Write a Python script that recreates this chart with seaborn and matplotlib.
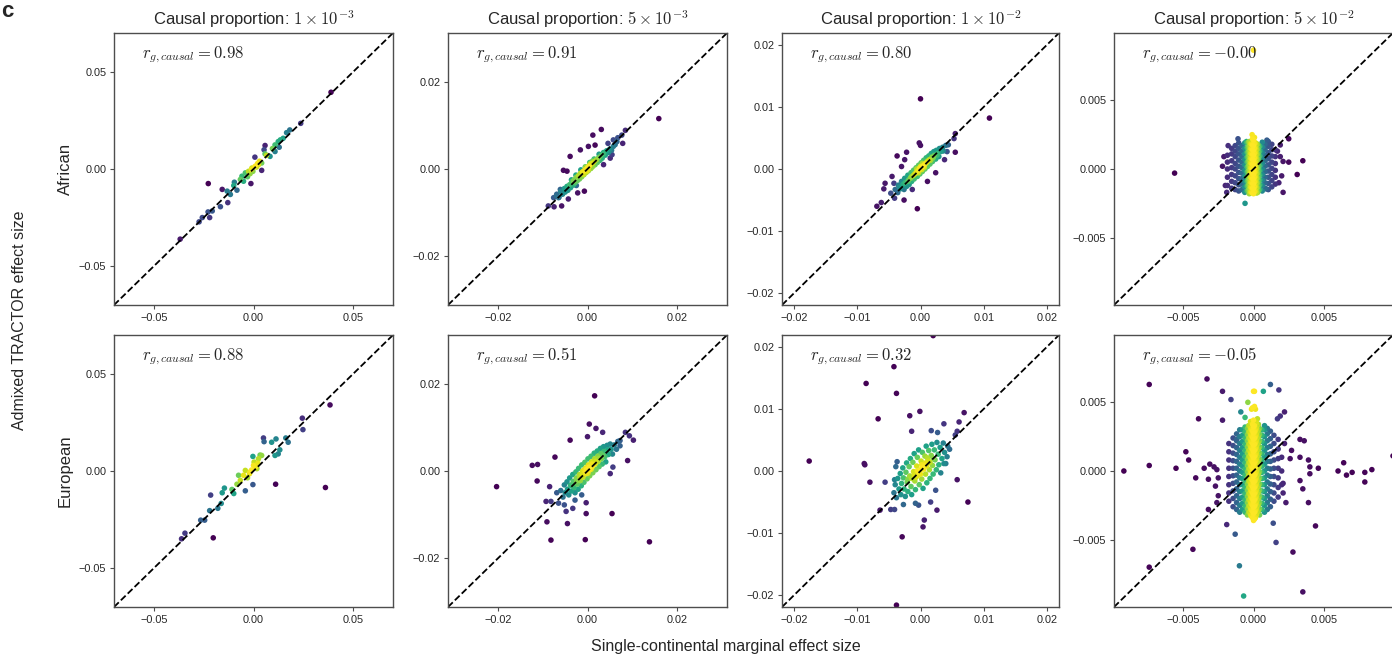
import numpy as np
import matplotlib
matplotlib.use("Agg")
import matplotlib.pyplot as plt
import seaborn as sns

# --- values, in units of 1e-3 (x = single-continental, y = TRACTOR) ---
col_titles = ["Causal proportion: $1\\times10^{-3}$", "Causal proportion: $5\\times10^{-3}$",
              "Causal proportion: $1\\times10^{-2}$", "Causal proportion: $5\\times10^{-2}$"]
row_names = ["African", "European"]
rg_afr = ["0.98", "0.91", "0.80", "-0.00"]
rg_eur = ["0.88", "0.51", "0.32", "-0.05"]
axis_lim = [0.07, 0.0313, 0.0219, 0.0099]
axis_ticks = [[-0.05, 0.0, 0.05], [-0.02, 0.0, 0.02],
              [-0.02, -0.01, 0.0, 0.01, 0.02], [-0.005, 0.0, 0.005]]

afr_1e3 = [(38.9, 39.5), (23.7, 23.5), (18.2, 20.1), (16.6, 18.7), (14.9, 15.8), (12.4, 14.1),
           (10.8, 12.4), (12.9, 11.2), (5.8, 12.1), (5.3, 9.9), (10.8, 9.0), (8.3, 6.5),
           (5.8, 7.8), (0.7, 6.1), (4.1, 3.1), (2.5, 2.2), (0.8, 1.4), (-0.8, 0.5),
           (-2.5, -1.2), (-1.7, -2.4), (-4.1, -2.0), (-5.8, -3.7), (4.1, -0.7), (-1.3, -7.5),
           (-5.0, -6.3), (-6.6, -5.4), (-9.6, -6.8), (-9.9, -8.5), (-8.3, -10.9), (-13.2, -11.4),
           (-15.7, -10.5), (-11.6, -13.1), (-22.7, -7.5), (-12.9, -17.3), (-16.6, -19.4), (-20.7, -21.6),
           (-22.8, -22.1), (-22.0, -25.0), (-25.7, -25.0), (-27.3, -27.2), (-36.8, -36.1), (-0.3, -1.2),
           (1.5, 1.0), (3.0, 4.0), (-3.0, -4.0), (2.0, 2.8), (-1.0, -0.2), (6.5, 7.0), (9.5, 10.5),
           (13.5, 15.0)]

eur_1e3 = [(38.4, 34.0), (24.5, 27.2), (24.8, 21.3), (16.2, 17.0), (17.4, 14.8), (11.3, 16.5),
           (9.1, 14.8), (5.0, 17.0), (5.3, 15.1), (13.2, 10.9), (12.4, 8.8), (10.8, 8.0),
           (4.1, 8.0), (2.5, 6.3), (-0.3, 7.5), (0.0, 2.9), (1.7, 1.2), (-1.7, -0.5),
           (-4.1, 0.3), (-5.0, -2.2), (-7.5, -2.2), (-6.6, -4.8), (-8.3, -6.8), (-0.3, -7.0),
           (-4.1, -10.2), (-10.8, -9.5), (-9.9, -11.6), (-14.6, -8.8), (-15.7, -11.2), (-21.5, -12.4),
           (-16.2, -16.7), (-17.9, -19.2), (-22.0, -20.4), (-24.5, -25.3), (-26.5, -25.3), (-34.4, -32.0),
           (-36.1, -34.9), (-20.2, -34.4), (11.1, -6.8), (36.1, -8.5), (0.3, 4.6), (-2.0, -1.4),
           (3.3, 8.2), (1.0, 2.0), (-1.0, 0.5), (2.2, 4.0), (-3.0, -3.5)]

afr_5e3 = [(16.0, 11.6), (3.1, 9.1), (1.2, 7.8), (8.5, 8.9), (7.7, 7.8), (7.9, 5.9), (5.8, 6.7),
           (1.7, 5.5), (0.2, 5.2), (-3.9, 2.9), (-1.6, 4.4), (-5.4, -0.3), (-4.6, -0.5), (5.1, 2.5),
           (3.6, 1.0), (-2.5, -3.8), (-0.7, -5.1), (-2.2, -5.5), (-6.1, -4.7), (-6.9, -5.8),
           (-7.6, -6.6), (-8.8, -8.5), (-7.5, -8.7), (-5.8, -8.5), (-6.5, -6.6), (-3.1, -2.8),
           (5.5, 3.3), (6.8, 7.2), (4.6, 5.9), (-4.3, -6.9),
           (-7.0, -6.2), (-6.4, -6.5), (-6.0, -5.2), (-5.6, -5.8), (-5.2, -4.5), (-5.0, -5.3),
           (-4.6, -4.0), (-4.4, -4.9), (-4.0, -3.6), (-3.8, -4.3), (-3.5, -2.9), (-3.2, -3.7),
           (-3.0, -2.5), (-2.8, -3.2), (-2.5, -1.9), (-2.3, -2.7), (-2.0, -1.5), (-1.8, -2.3),
           (-1.6, -1.0), (-1.3, -1.8), (-1.0, -0.6), (-0.8, -1.3), (-0.6, -0.2), (-0.3, -0.8),
           (0.0, 0.3), (0.2, -0.4), (0.4, 0.7), (0.7, 0.1), (0.9, 1.2), (1.2, 0.6), (1.4, 1.6),
           (1.7, 1.0), (2.0, 2.1), (2.2, 1.5), (2.5, 2.6), (2.8, 2.0), (3.0, 3.1), (3.3, 2.5),
           (3.6, 3.5), (4.0, 3.2), (4.3, 4.2), (4.7, 3.8), (5.0, 4.6), (5.4, 4.3), (5.8, 5.2),
           (6.2, 5.6), (6.6, 6.3), (-2.6, -1.4), (-1.5, -0.2), (-0.5, 0.5), (0.5, 1.5), (1.5, 2.3),
           (2.6, 3.4), (-3.6, -2.5), (3.6, 3.8), (-0.2, -0.5), (0.3, 0.6), (0.8, 0.2), (-0.9, -1.2),
           (1.1, 1.8), (-1.1, -0.7), (0.1, -0.2), (-0.4, 0.4), (0.6, 1.2)]

afr_1e2 = [(0.0, 11.3), (10.9, 8.2), (5.5, 5.7), (5.5, 2.7), (-0.2, 4.2), (0.0, 3.8), (-3.7, 2.1),
           (-2.2, 2.7), (-2.5, 1.5), (-4.5, -1.2), (-4.2, -2.3), (-5.6, -2.3), (-5.8, -3.2),
           (-4.7, -3.9), (-6.2, -5.4), (-6.9, -6.0), (-4.1, -4.7), (-2.6, -5.0), (-0.5, -6.4),
           (-1.3, -3.3), (1.1, -2.0), (4.2, 2.8), (3.8, 1.5), (2.4, -0.6), (5.3, 4.9), (-3.0, 0.4),
           (-4.0, -3.3), (-3.6, -3.8), (-3.5, -2.6), (-3.2, -3.2), (-3.0, -2.0), (-2.9, -2.7),
           (-2.6, -3.3), (-2.5, -1.5), (-2.4, -2.2), (-2.2, -2.8), (-2.0, -1.0), (-1.9, -1.8),
           (-1.8, -2.5), (-1.5, -0.6), (-1.5, -1.3), (-1.4, -2.0), (-1.1, -0.2), (-1.0, -0.9),
           (-1.0, -1.6), (-0.7, 0.2), (-0.6, -0.5), (-0.5, -1.2), (-0.3, 0.6), (-0.2, -0.1),
           (-0.1, -0.8), (0.1, 1.0), (0.2, 0.3), (0.3, -0.4), (0.5, 1.4), (0.6, 0.7), (0.7, 0.0),
           (0.9, 1.8), (1.0, 1.1), (1.1, 0.4), (1.3, 2.1), (1.4, 1.5), (1.5, 0.8), (1.7, 2.5),
           (1.8, 1.9), (1.9, 1.2), (2.1, 2.8), (2.2, 2.2), (2.4, 1.6), (2.5, 3.0), (2.7, 2.5),
           (2.9, 2.0), (3.0, 3.3), (3.2, 2.8), (3.5, 3.5), (3.6, 2.9), (4.0, 3.8), (4.4, 3.9),
           (0.0, 0.4), (0.4, 0.5), (-0.4, -0.3), (0.8, 0.9), (-0.8, -0.7), (0.2, -0.1), (-0.1, 0.2),
           (1.2, 1.3), (-1.2, -1.1), (0.6, 0.3), (-0.6, 0.0), (1.6, 1.4), (-1.6, -1.5), (2.0, 1.8),
           (-2.0, -2.0), (0.3, 0.9), (-0.3, -0.6), (2.6, 2.2), (-2.7, -2.4), (3.3, 3.0), (-3.3, -2.9)]

eur_5e3 = [(1.6, 17.3), (0.4, 10.8), (1.9, 9.8), (3.4, 8.9), (-3.9, 7.1), (0.0, 7.9), (9.4, 8.1),
           (10.3, 7.1), (8.5, 8.9), (7.3, 5.8), (9.0, 2.4), (-7.3, 3.2), (-12.4, 1.3), (-11.2, 1.5),
           (-11.3, -2.3), (-20.4, -3.6), (-8.5, -3.6), (-6.9, -5.0), (-9.3, -7.0), (-8.2, -7.0),
           (-4.8, -9.3), (-3.3, -8.6), (-0.3, -9.8), (5.5, -9.8), (-9.1, -11.7), (-4.5, -12.1),
           (-8.2, -15.9), (-0.5, -15.8), (13.9, -16.3), (5.1, -0.6), (5.7, 0.9), (-0.3, -7.3),
           (-1.3, -5.5), (-2.8, -6.7), (-5.2, -7.8), (-6.5, -7.4), (7.3, 7.0),
           (-6.0, -4.5), (-5.5, -6.0), (-5.2, -3.2), (-5.0, -5.0), (-4.6, -2.5), (-4.5, -4.2),
           (-4.2, -5.5), (-4.0, -1.6), (-3.8, -3.3), (-3.6, -4.6), (-3.3, -0.8), (-3.2, -2.4),
           (-3.0, -3.8), (-2.8, -5.0), (-2.6, -0.2), (-2.5, -1.6), (-2.3, -3.0), (-2.1, -4.2),
           (-2.0, 0.6), (-1.8, -0.8), (-1.6, -2.2), (-1.4, -3.4), (-1.3, 1.4), (-1.1, 0.0),
           (-1.0, -1.4), (-0.8, -2.6), (-0.6, 2.0), (-0.4, 0.7), (-0.3, -0.6), (-0.1, -1.8),
           (0.1, 2.8), (0.2, 1.4), (0.4, 0.2), (0.5, -1.1), (0.8, 3.4), (0.9, 2.1), (1.0, 0.9),
           (1.2, -0.4), (1.5, 4.1), (1.6, 2.8), (1.7, 1.6), (1.9, 0.3), (2.2, 4.6), (2.3, 3.4),
           (2.4, 2.2), (2.6, 1.0), (2.9, 5.2), (3.0, 4.0), (3.1, 2.8), (3.3, 1.6), (3.6, 5.6),
           (3.7, 4.5), (3.9, 3.3), (4.1, 2.1), (4.4, 5.9), (4.5, 4.9), (4.7, 3.8), (5.1, 6.2),
           (5.3, 5.0), (5.6, 3.9), (6.0, 6.0), (6.5, 5.0), (6.8, 6.8), (0.0, 0.0), (0.6, 0.7),
           (-0.5, -0.2), (1.3, 1.4), (-1.2, -0.8), (0.3, 0.9), (0.8, 0.4), (-0.2, 0.4), (1.8, 2.2),
           (-1.7, -1.5), (2.5, 2.9), (-2.4, -2.3), (0.1, -0.5), (1.0, 1.6), (-0.8, 0.2), (3.4, 3.6),
           (-3.4, -3.1)]

eur_1e2 = [(2.0, 21.8), (-4.2, 16.8), (-8.6, 14.1), (-3.8, 12.5), (-6.7, 8.4), (-1.7, 8.9),
           (-0.1, 9.6), (3.7, 7.6), (6.1, 7.9), (6.9, 9.4), (-1.4, 6.4), (1.7, 6.5), (2.7, 6.2),
           (5.8, 6.4), (5.5, 5.8), (-17.6, 1.6), (-8.9, 1.2), (-8.8, 1.0), (-8.0, -1.8), (-5.6, -1.8),
           (-4.1, -1.4), (5.8, -1.4), (7.5, -5.0), (-6.4, -6.3), (-4.7, -6.2), (-4.1, -6.2),
           (-2.7, -5.4), (-0.8, -5.2), (-0.3, -5.5), (1.6, -5.0), (2.6, -6.3), (0.6, -7.9),
           (0.4, -9.0), (-2.9, -10.6), (-3.8, -21.6), (2.4, -3.1), (3.7, 1.2), (4.2, 2.3),
           (-3.9, 0.7), (-3.7, 1.5),
           (-4.2, -3.5), (-4.0, -2.2), (-3.8, -4.3), (-3.6, -1.2), (-3.4, -2.9), (-3.2, -0.4),
           (-3.1, -3.8), (-3.0, -2.0), (-2.8, 0.5), (-2.7, -1.1), (-2.6, -2.9), (-2.4, -4.1),
           (-2.3, -0.2), (-2.2, 1.3), (-2.1, -1.8), (-2.0, -3.3), (-1.8, 0.7), (-1.7, -0.8),
           (-1.6, 2.0), (-1.5, -2.5), (-1.4, -3.8), (-1.2, 1.4), (-1.1, -0.1), (-1.0, 2.8),
           (-0.9, -1.6), (-0.8, -3.0), (-0.6, 0.8), (-0.5, 2.2), (-0.4, -0.7), (-0.3, 3.4),
           (-0.2, -2.2), (0.0, 0.2), (0.1, 1.6), (0.2, -1.3), (0.3, 3.0), (0.4, -2.8), (0.6, 0.9),
           (0.7, 2.4), (0.8, -0.5), (0.9, 4.0), (1.0, -1.9), (1.2, 1.6), (1.3, 3.3), (1.4, 0.2),
           (1.5, -1.2), (1.7, 2.5), (1.8, 4.3), (1.9, 0.9), (2.0, -0.5), (2.2, 3.4), (2.3, 1.8),
           (2.5, 0.2), (2.6, 4.6), (2.8, 2.7), (2.9, 1.0), (3.1, 3.8), (3.2, -0.3), (3.4, 2.0),
           (3.6, 4.5), (3.8, 3.0), (4.0, 1.2), (4.3, 4.0), (4.6, 3.5), (0.0, -0.5), (0.5, 0.3),
           (-0.5, 0.0), (1.0, 0.8), (-1.0, -0.6), (0.3, 0.6), (0.8, 1.3), (-0.3, -0.2), (1.5, 1.4),
           (-1.4, -1.2), (2.0, 2.0), (-2.0, -1.3), (0.2, 1.0), (1.1, 2.1), (-0.7, -1.0)]

# causal proportion 5e-2: scattered points plus the dense block, read column by column
afr_5e2_out = [(-5.6, -0.3), (0.0, 8.65), (-1.8, 1.7), (-2.1, 0.9), (-1.1, 2.2), (-1.9, -1.7),
               (-0.6, -2.5), (-0.1, 2.5), (-0.5, 2.0), (2.5, 2.2), (1.9, 1.75), (1.9, 0.9),
               (2.1, 0.55), (2.5, 0.5), (3.5, 0.6), (3.1, -0.4), (2.0, -0.5), (2.1, -1.7),
               (0.9, -1.45), (0.95, 2.1), (-2.0, -1.2), (-2.2, 0.2), (1.8, -1.0), (1.7, 1.3)]
afr_5e2_colx = [-1.85, -1.55, -1.3, -1.05, -0.82, -0.62, -0.45, -0.3, -0.15, 0.0, 0.15, 0.3,
                0.45, 0.62, 0.82, 1.05, 1.3, 1.55,
                -0.37, -0.22, -0.07, 0.07, 0.22, 0.37]
afr_5e2_coly = [[-1.2, -0.6, 0.0, 0.5, 1.0],
                [-1.4, -0.9, -0.4, 0.1, 0.6, 1.1, 1.5],
                [-1.5, -1.0, -0.5, 0.0, 0.4, 0.9, 1.3, 1.7],
                [-1.6, -1.15, -0.7, -0.25, 0.2, 0.65, 1.1, 1.5, 1.9],
                [-1.5, -1.1, -0.7, -0.3, 0.1, 0.5, 0.9, 1.3, 1.7],
                [-1.7, -1.3, -0.9, -0.5, -0.1, 0.3, 0.7, 1.1, 1.5, 1.9],
                [-1.6, -1.25, -0.9, -0.55, -0.2, 0.15, 0.5, 0.85, 1.2, 1.55, 1.9],
                [-1.8, -1.45, -1.1, -0.75, -0.4, -0.05, 0.3, 0.65, 1.0, 1.35, 1.7, 2.0],
                [-1.7, -1.35, -1.0, -0.65, -0.3, 0.05, 0.4, 0.75, 1.1, 1.45, 1.8],
                [-1.8, -1.45, -1.1, -0.75, -0.4, -0.05, 0.3, 0.65, 1.0, 1.35, 1.7, 2.1],
                [-1.6, -1.25, -0.9, -0.55, -0.2, 0.15, 0.5, 0.85, 1.2, 1.55, 1.9],
                [-1.7, -1.35, -1.0, -0.65, -0.3, 0.05, 0.4, 0.75, 1.1, 1.45, 1.8],
                [-1.5, -1.15, -0.8, -0.45, -0.1, 0.25, 0.6, 0.95, 1.3, 1.65],
                [-1.6, -1.2, -0.8, -0.4, 0.0, 0.4, 0.8, 1.2, 1.6, 1.95],
                [-1.4, -1.0, -0.6, -0.2, 0.2, 0.6, 1.0, 1.4, 1.8],
                [-1.5, -1.05, -0.6, -0.15, 0.3, 0.75, 1.2, 1.65, 2.0],
                [-1.3, -0.85, -0.4, 0.05, 0.5, 0.95, 1.4, 1.8],
                [-1.1, -0.6, -0.1, 0.4, 0.9, 1.4],
                [-1.55, -1.2, -0.85, -0.5, -0.15, 0.2, 0.55, 0.9, 1.25, 1.6, 1.95],
                [-1.65, -1.3, -0.95, -0.6, -0.25, 0.1, 0.45, 0.8, 1.15, 1.5, 1.85],
                [-1.75, -1.4, -1.05, -0.7, -0.35, 0.0, 0.35, 0.7, 1.05, 1.4, 1.75, 2.2],
                [-1.65, -1.3, -0.95, -0.6, -0.25, 0.1, 0.45, 0.8, 1.15, 1.5, 1.85, 2.3],
                [-1.75, -1.4, -1.05, -0.7, -0.35, 0.0, 0.35, 0.7, 1.05, 1.4, 1.75],
                [-1.55, -1.2, -0.85, -0.5, -0.15, 0.2, 0.55, 0.9, 1.25, 1.6]]

eur_5e2_out = [(-9.2, 0.0), (-7.4, 6.3), (-7.4, 0.4), (-7.4, -7.0), (-5.5, 0.2), (-4.8, 1.4),
               (-4.6, 0.8), (-3.9, 3.8), (-3.3, 6.7), (-4.1, -0.5), (-4.3, -5.7), (-3.2, -2.8),
               (-3.5, 0.2), (-3.1, 0.5), (-2.8, 0.3), (-2.6, 0.1), (-3.2, -0.6), (-2.5, -0.5),
               (-2.7, -1.1), (-2.5, -1.8), (-2.6, -2.3), (-2.2, 5.8), (-1.6, 5.2), (-2.2, 3.7),
               (-1.9, -3.9), (-1.3, -4.6), (-1.0, -6.9), (-0.7, -9.1), (0.7, 5.8), (1.2, 6.3),
               (1.8, 5.9), (2.2, 4.3), (1.7, 3.8), (1.9, 4.0), (3.3, 2.3), (3.6, 2.2), (2.7, 1.5),
               (2.6, 0.9), (3.3, 1.0), (3.9, 0.8), (4.0, 0.3), (4.6, 0.2), (4.0, -0.2), (6.0, 0.0),
               (6.4, 0.6), (6.6, -0.3), (7.0, -0.1), (7.9, -0.1), (7.9, -0.8), (8.4, 0.1),
               (9.9, 1.1), (3.3, -0.7), (3.5, -1.3), (3.9, -2.3), (4.4, -4.0), (2.8, -5.9),
               (1.6, -5.2), (1.4, -3.8), (3.5, -8.8), (2.3, -2.3), (2.1, -1.6), (-0.4, 5.0),
               (-0.9, 4.3), (-0.6, 3.9), (-1.2, 2.3), (2.2, 2.0), (2.1, -0.9)]
eur_5e2_colx = [-1.75, -1.45, -1.2, -0.98, -0.78, -0.6, -0.43, -0.28, -0.14, 0.0, 0.14, 0.28,
                0.43, 0.6, 0.78, 0.98, 1.2, 1.45, 1.75, 2.0,
                -0.35, -0.21, -0.07, 0.07, 0.21, 0.35]
eur_5e2_coly = [[-2.2, -1.6, -1.0, -0.4, 0.2, 0.8, 1.4, 2.0],
                [-2.6, -2.0, -1.45, -0.9, -0.35, 0.2, 0.75, 1.3, 1.85, 2.4],
                [-2.8, -2.3, -1.8, -1.3, -0.8, -0.3, 0.2, 0.7, 1.2, 1.7, 2.2, 2.7],
                [-3.0, -2.5, -2.0, -1.5, -1.0, -0.5, 0.0, 0.5, 1.0, 1.5, 2.0, 2.5, 3.0],
                [-2.8, -2.35, -1.9, -1.45, -1.0, -0.55, -0.1, 0.35, 0.8, 1.25, 1.7, 2.15, 2.6, 3.0],
                [-3.0, -2.55, -2.1, -1.65, -1.2, -0.75, -0.3, 0.15, 0.6, 1.05, 1.5, 1.95, 2.4, 2.85, 3.2],
                [-3.2, -2.75, -2.3, -1.85, -1.4, -0.95, -0.5, -0.05, 0.4, 0.85, 1.3, 1.75, 2.2, 2.65, 3.1],
                [-3.0, -2.55, -2.1, -1.65, -1.2, -0.75, -0.3, 0.15, 0.6, 1.05, 1.5, 1.95, 2.4, 2.85, 3.3],
                [-3.3, -2.85, -2.4, -1.95, -1.5, -1.05, -0.6, -0.15, 0.3, 0.75, 1.2, 1.65, 2.1, 2.55,
                 3.0, 4.5],
                [-3.6, -3.1, -2.65, -2.2, -1.75, -1.3, -0.85, -0.4, 0.05, 0.5, 0.95, 1.4, 1.85, 2.3,
                 2.75, 3.2, 3.7, 5.8],
                [-3.4, -2.9, -2.45, -2.0, -1.55, -1.1, -0.65, -0.2, 0.25, 0.7, 1.15, 1.6, 2.05, 2.5,
                 2.95, 4.5],
                [-3.0, -2.55, -2.1, -1.65, -1.2, -0.75, -0.3, 0.15, 0.6, 1.05, 1.5, 1.95, 2.4, 2.85,
                 3.3, 3.8],
                [-3.2, -2.75, -2.3, -1.85, -1.4, -0.95, -0.5, -0.05, 0.4, 0.85, 1.3, 1.75, 2.2, 2.65, 3.1],
                [-2.8, -2.35, -1.9, -1.45, -1.0, -0.55, -0.1, 0.35, 0.8, 1.25, 1.7, 2.15, 2.6, 3.0],
                [-3.0, -2.5, -2.0, -1.5, -1.0, -0.5, 0.0, 0.5, 1.0, 1.5, 2.0, 2.5, 3.0, 3.3],
                [-2.8, -2.3, -1.8, -1.3, -0.8, -0.3, 0.2, 0.7, 1.2, 1.7, 2.2, 2.7, 3.1],
                [-2.6, -2.05, -1.5, -0.95, -0.4, 0.15, 0.7, 1.25, 1.8, 2.35, 2.9],
                [-2.2, -1.6, -1.0, -0.4, 0.2, 0.8, 1.4, 2.0, 2.6],
                [-1.9, -1.2, -0.5, 0.2, 0.9, 1.6, 2.3],
                [-1.0, 0.0, 1.0],
                [-3.0, -2.55, -2.1, -1.65, -1.2, -0.75, -0.3, 0.15, 0.6, 1.05, 1.5, 1.95, 2.4, 2.85, 3.3],
                [-3.2, -2.75, -2.3, -1.85, -1.4, -0.95, -0.5, -0.05, 0.4, 0.85, 1.3, 1.75, 2.2, 2.65,
                 3.1, 3.6],
                [-3.4, -2.95, -2.5, -2.05, -1.6, -1.15, -0.7, -0.25, 0.2, 0.65, 1.1, 1.55, 2.0, 2.45,
                 2.9, 3.4, 4.6],
                [-3.5, -3.0, -2.55, -2.1, -1.65, -1.2, -0.75, -0.3, 0.15, 0.6, 1.05, 1.5, 1.95, 2.4,
                 2.85, 3.3, 4.7, 5.8],
                [-3.2, -2.75, -2.3, -1.85, -1.4, -0.95, -0.5, -0.05, 0.4, 0.85, 1.3, 1.75, 2.2, 2.65,
                 3.1, 3.5],
                [-2.9, -2.45, -2.0, -1.55, -1.1, -0.65, -0.2, 0.25, 0.7, 1.15, 1.6, 2.05, 2.5, 2.95, 3.4]]


def with_columns(points, colx, coly):
    pts = list(points)
    for cx, ys in zip(colx, coly):
        pts += [(cx, cy) for cy in ys]
    return pts


def point_density(x, y, x_only=False, bw_scale=1.0):
    # gaussian kde (scott bandwidth) evaluated at the points themselves
    pts = x[None, :] if x_only else np.vstack([x, y])
    n = pts.shape[1]
    cov = np.atleast_2d(np.cov(pts)) * (bw_scale * n ** (-1.0 / (pts.shape[0] + 4))) ** 2
    inv = np.linalg.inv(cov)
    d = pts[:, :, None] - pts[:, None, :]
    m = np.einsum('ijk,il,ljk->jk', d, inv, d)
    return np.exp(-0.5 * m).sum(axis=1)


panels = [[afr_1e3, afr_5e3, afr_1e2, with_columns(afr_5e2_out, afr_5e2_colx, afr_5e2_coly)],
          [eur_1e3, eur_5e3, eur_1e2, with_columns(eur_5e2_out, eur_5e2_colx, eur_5e2_coly)]]
rg_rows = [rg_afr, rg_eur]

# --- style ---
sns.set_style("ticks")
plt.rcParams['font.family'] = ['Liberation Sans', 'DejaVu Sans']
plt.rcParams['mathtext.fontset'] = 'cm'

W, H = 1392, 658
fig = plt.figure(figsize=(W / 100, H / 100), dpi=100)
lefts = [114, 448, 782, 1114]
widths = [279, 279, 277, 279]
tops = [33, 335]
ax_h = 272

for r in range(2):
    for c in range(4):
        ax = fig.add_axes([lefts[c] / W, 1 - (tops[r] + ax_h) / H, widths[c] / W, ax_h / H])
        xy = np.array(panels[r][c]) * 1e-3
        x, y = xy[:, 0], xy[:, 1]
        if c == 3:
            dens = point_density(x, y, x_only=True, bw_scale=0.75)
        else:
            dens = point_density(x, y)
        order = np.argsort(dens)
        sns.scatterplot(x=x[order], y=y[order], hue=dens[order], palette='viridis',
                        s=16, linewidth=0, legend=False, ax=ax)
        ax.axline((0, 0), slope=1, color='black', ls='--', lw=1.3)
        lim = axis_lim[c]
        ax.set_xlim(-lim, lim)
        ax.set_ylim(-lim, lim)
        ax.set_xticks(axis_ticks[c])
        ax.set_yticks(axis_ticks[c])
        ax.set_xlabel('')
        ax.set_ylabel('')
        ax.tick_params(labelsize=7.8, length=3, width=0.8, color='0.3', pad=2.5)
        for sp in ax.spines.values():
            sp.set_color('0.3')
            sp.set_linewidth(1.0)
        ax.text(0.1, 0.92, "$r_{g,causal} = " + rg_rows[r][c] + "$", transform=ax.transAxes,
                fontsize=12, va='center', ha='left')
        if r == 0:
            ax.set_title(col_titles[c], fontsize=12, pad=6)

for r in range(2):
    fig.text(65 / W, 1 - (tops[r] + ax_h / 2) / H, row_names[r], rotation=90,
             fontsize=12, ha='center', va='center')

fig.text(20 / W, 1 - 320 / H, "Admixed TRACTOR effect size", rotation=90,
         fontsize=11.5, ha='center', va='center')
fig.text(726 / W, 1 - 647 / H, "Single-continental marginal effect size",
         fontsize=11.5, ha='center', va='center')
fig.text(1 / W, 1 - 1 / H, "c", fontsize=16, fontweight='bold', ha='left', va='top')

fig.savefig("out.png", dpi=100)
